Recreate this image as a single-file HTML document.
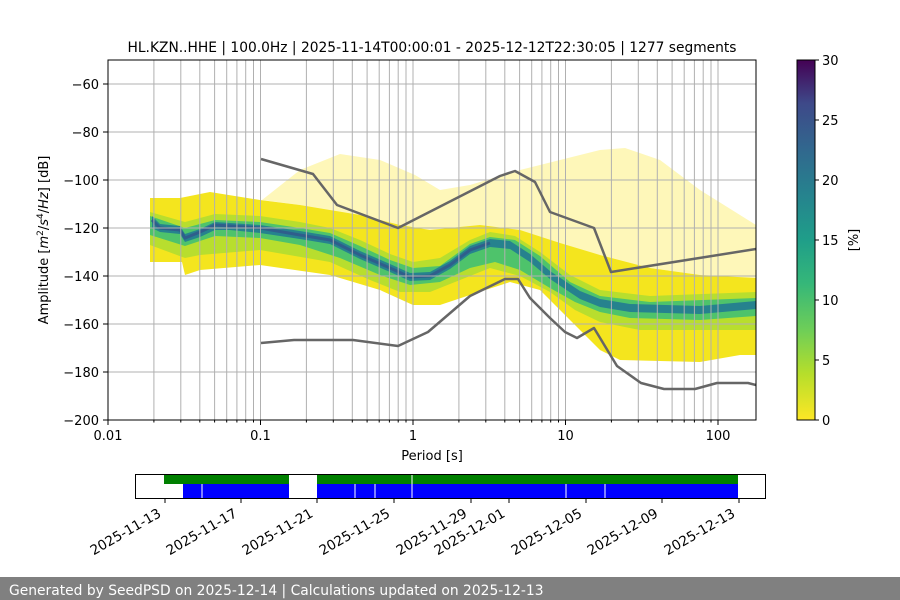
<!DOCTYPE html>
<html><head><meta charset="utf-8"><style>
html,body{margin:0;padding:0;background:#fff;}
svg{display:block;font-family:"DejaVu Sans","Liberation Sans",sans-serif;}
</style></head><body>
<svg width="900" height="600" viewBox="0 0 900 600" xmlns="http://www.w3.org/2000/svg">
<defs>
<clipPath id="ax"><rect x="108" y="60" width="648" height="360"/></clipPath>
<linearGradient id="vir" x1="0" y1="1" x2="0" y2="0">
<stop offset="0" stop-color="#fde725"/>
<stop offset="0.13" stop-color="#b5de2b"/>
<stop offset="0.25" stop-color="#6ece58"/>
<stop offset="0.38" stop-color="#35b779"/>
<stop offset="0.5" stop-color="#1f9e89"/>
<stop offset="0.63" stop-color="#26828e"/>
<stop offset="0.75" stop-color="#31688e"/>
<stop offset="0.88" stop-color="#3e4989"/>
<stop offset="1" stop-color="#440154"/>
</linearGradient>
</defs>
<rect width="900" height="600" fill="#fff"/>
<g clip-path="url(#ax)">
<path d="M262,200 L300,170 L340,154 L380,160 L415,175 L440,190 L470,185 L520,170 L560,160 L600,150 L625,148 L660,160 L700,190 L740,215 L756,225 L756,280 L700,275 L650,268 L600,255 L560,245 L520,232 L480,228 L430,232 L400,226 L360,216 L330,210 L300,205 Z" fill="#fde725" opacity="0.32"/>
<path d="M150,198 L180,198 L210,192 L260,200 L300,205 L330,210 L360,215 L400,225 L430,230 L480,225 L520,230 L560,243 L600,255 L650,268 L700,275 L756,278 L756,355 L740,355 L700,362 L620,360 L600,350 L570,320 L540,290 L510,282 L470,295 L440,305 L413,305 L380,290 L330,275 L260,265 L200,270 L185,275 L182,262 L150,262 Z" fill="#f4e51e"/>
<path d="M150,212 L185,222 L215,214 L260,216 L300,222 L330,228 L360,240 L390,254 L413,262 L440,258 L470,240 L490,232 L515,236 L540,252 L570,275 L600,290 L650,296 L756,292 L756,330 L700,330 L640,330 L600,322 L575,310 L550,292 L520,276 L490,268 L460,280 L430,292 L400,292 L370,280 L330,262 L260,250 L200,255 L185,258 L150,245 Z" fill="#b8de2e"/>
<path d="M150,216 L185,228 L215,220 L260,222 L300,228 L330,233 L360,246 L390,260 L413,268 L440,266 L470,244 L490,237 L515,240 L540,256 L570,282 L600,296 L650,302 L756,298 L756,316 L700,320 L630,318 L600,312 L575,302 L550,288 L520,270 L495,262 L470,268 L440,282 L410,285 L380,275 L340,258 L300,245 L260,238 L215,236 L185,246 L150,235 Z" fill="#4ec36b"/>
<path d="M152,216 L160,224 L180,226 L185,234 L200,229 L215,222 L230,223 L260,225 L300,231 L330,236 L360,251 L390,264 L410,273 L430,272 L450,261 L470,246 L490,239 L510,241 L530,254 L550,271 L580,291 L600,299 L630,304 L700,306 L756,301 L756,309 L700,314 L630,312 L600,307 L580,299 L550,279 L530,262 L510,249 L490,247 L470,254 L450,269 L430,280 L410,281 L390,272 L360,259 L330,244 L300,239 L260,233 L230,230 L215,230 L200,237 L185,242 L180,234 L160,232 L152,228 Z" fill="#26828e"/>
<path d="M152,220 L160,228 L180,230 L185,238 L200,232 L215,225 L230,226 L260,228 L300,235 L330,240 L360,255 L390,268 L410,277 L430,276 L450,265 L470,250 L490,243" fill="none" stroke="#2f5e8c" stroke-width="3"/>
</g>
<g stroke="#b0b0b0" stroke-width="1">
<path d="M153.9,60V420M180.8,60V420M199.8,60V420M214.6,60V420M226.7,60V420M236.9,60V420M245.7,60V420M253.5,60V420M260.5,60V420M306.4,60V420M333.3,60V420M352.3,60V420M367.1,60V420M379.2,60V420M389.4,60V420M398.2,60V420M406,60V420M413,60V420M458.9,60V420M485.8,60V420M504.8,60V420M519.6,60V420M531.7,60V420M541.9,60V420M550.7,60V420M558.5,60V420M565.5,60V420M611.4,60V420M638.3,60V420M657.3,60V420M672.1,60V420M684.2,60V420M694.4,60V420M703.2,60V420M711,60V420M718,60V420"/>
<path d="M108,84H756M108,132H756M108,180H756M108,228H756M108,276H756M108,324H756M108,372H756"/>
</g>
<g fill="none" stroke="#666" stroke-width="2.5" stroke-linejoin="round" clip-path="url(#ax)">
<polyline points="261,159 313,174 337,205 398,228 500,176 515,171 535,182 550,212 594,228 611,272 756,249"/>
<polyline points="261,343 294,340 353,340 398,346 428,332 470,296 505,279 518,279 530,298 550,318 565,332 577,338 594,328 617,366 641,383 664,389 695,389 717,383 748,383 756,385"/>
</g>
<rect x="108" y="60" width="648" height="360" fill="none" stroke="#000" stroke-width="1"/>
<g stroke="#000" stroke-width="1">
<path d="M108,420v5M260.5,420v5M413,420v5M565.5,420v5M718,420v5"/>
<path d="M153.9,420v2.5M180.8,420v2.5M199.8,420v2.5M214.6,420v2.5M226.7,420v2.5M236.9,420v2.5M245.7,420v2.5M253.5,420v2.5M306.4,420v2.5M333.3,420v2.5M352.3,420v2.5M367.1,420v2.5M379.2,420v2.5M389.4,420v2.5M398.2,420v2.5M406,420v2.5M458.9,420v2.5M485.8,420v2.5M504.8,420v2.5M519.6,420v2.5M531.7,420v2.5M541.9,420v2.5M550.7,420v2.5M558.5,420v2.5M611.4,420v2.5M638.3,420v2.5M657.3,420v2.5M672.1,420v2.5M684.2,420v2.5M694.4,420v2.5M703.2,420v2.5M711,420v2.5"/>
<path d="M103,84h5M103,132h5M103,180h5M103,228h5M103,276h5M103,324h5M103,372h5M103,420h5"/>
</g>
<g font-size="13" fill="#000">
<g text-anchor="end">
<text x="99" y="89">−60</text><text x="99" y="137">−80</text><text x="99" y="185">−100</text><text x="99" y="233">−120</text><text x="99" y="281">−140</text><text x="99" y="329">−160</text><text x="99" y="377">−180</text><text x="99" y="425">−200</text>
</g>
<g text-anchor="middle">
<text x="108" y="440">0.01</text><text x="260.5" y="440">0.1</text><text x="413" y="440">1</text><text x="565.5" y="440">10</text><text x="718" y="440">100</text>
<text x="432" y="460">Period [s]</text>
<text x="432" y="52" font-size="13.8">HL.KZN..HHE | 100.0Hz | 2025-11-14T00:00:01 - 2025-12-12T22:30:05 | 1277 segments</text>
</g>
<text transform="translate(48,240) rotate(-90)" text-anchor="middle">Amplitude [<tspan font-style="italic">m</tspan><tspan font-size="9" dy="-5">2</tspan><tspan dy="5">/</tspan><tspan font-style="italic">s</tspan><tspan font-size="9" dy="-5">4</tspan><tspan dy="5">/</tspan><tspan font-style="italic">Hz</tspan>] [dB]</text>
</g>
<rect x="797" y="60" width="18" height="360" fill="url(#vir)" stroke="#000" stroke-width="1"/>
<g stroke="#000"><path d="M815,60h4M815,120h4M815,180h4M815,240h4M815,300h4M815,360h4M815,420h4"/></g>
<g font-size="13" fill="#000">
<text x="822" y="65">30</text><text x="822" y="125">25</text><text x="822" y="185">20</text><text x="822" y="245">15</text><text x="822" y="305">10</text><text x="822" y="365">5</text><text x="822" y="425">0</text>
<text transform="translate(858,240) rotate(-90)" text-anchor="middle">[%]</text>
</g>
<rect x="164" y="475" width="125" height="9" fill="#008000"/>
<rect x="317" y="475" width="421" height="9" fill="#008000"/>
<rect x="183" y="484" width="106" height="14" fill="#0000ff"/>
<rect x="317" y="484" width="421" height="14" fill="#0000ff"/>
<g stroke="#fff" stroke-width="1"><path d="M202,484v14M355,484v14M375,484v14M566,484v14M605,484v14M412,475v23"/></g>
<rect x="135.5" y="474.5" width="630" height="24" fill="none" stroke="#000" stroke-width="1"/>
<g stroke="#000"><path d="M165,498v5M241,498v5M317,498v5M394,498v5M471,498v5M509,498v5M586,498v5M662,498v5M739,498v5"/></g>
<g font-size="13.6" fill="#000" text-anchor="end">
<text transform="translate(162,516) rotate(-30)">2025-11-13</text>
<text transform="translate(238,516) rotate(-30)">2025-11-17</text>
<text transform="translate(314,516) rotate(-30)">2025-11-21</text>
<text transform="translate(391,516) rotate(-30)">2025-11-25</text>
<text transform="translate(468,516) rotate(-30)">2025-11-29</text>
<text transform="translate(506,516) rotate(-30)">2025-12-01</text>
<text transform="translate(583,516) rotate(-30)">2025-12-05</text>
<text transform="translate(659,516) rotate(-30)">2025-12-09</text>
<text transform="translate(736,516) rotate(-30)">2025-12-13</text>
</g>
<rect x="0" y="577" width="900" height="23" fill="#808080"/>
<text x="9" y="595" font-size="13.85" fill="#fff">Generated by SeedPSD on 2025-12-14 | Calculations updated on 2025-12-13</text>
</svg>
</body></html>
